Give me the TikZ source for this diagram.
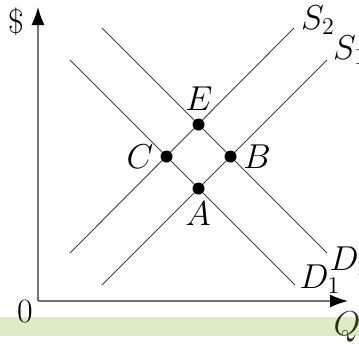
\documentclass[tikz,border=0pt]{standalone}
\usetikzlibrary{arrows.meta}

\definecolor{bandGreen}{RGB}{221,235,199}
\definecolor{qGreen}{RGB}{38,52,20}
\colorlet{axisGray}{black!55}
\colorlet{lineGray}{black!75}

\begin{document}
\begin{tikzpicture}[x=0.5pt, y=-0.5pt,
        curve/.style={lineGray, line width=0.45pt},
        axis/.style={axisGray, line width=0.8pt,
              -{Latex[black, length=9pt, width=6.5pt]}},
        eqdot/.style={circle, fill=black, inner sep=0pt, minimum size=6pt},
        lbl/.style={font=\fontsize{17}{19}\selectfont, inner sep=1pt}]
        \useasboundingbox (0,0) rectangle (359,343);
        \fill[bandGreen] (0,317) rectangle (359,336);
        % axes
        \coordinate (O)    at (38,301);
        \coordinate (ytop) at (38,7);
        \coordinate (xend) at (348,301);
        \draw[axis] (O) -- (ytop);
        \draw[axis] (O) -- (xend);
        \node[lbl] (dollar) at (16,22) {\$};
        \node[lbl] (zero)   at (25,312) {0};
        \node[lbl, text=qGreen] (qlab) at (347,327) {$Q$};
        % supply and demand lines
        \coordinate (s1a) at (102,285);  \coordinate (s1b) at (327,60);
        \coordinate (s2a) at (70,253);   \coordinate (s2b) at (294,28);
        \coordinate (d1a) at (70,60);    \coordinate (d1b) at (295,285);
        \coordinate (d2a) at (102,28);   \coordinate (d2b) at (327,253);
        \draw[curve] (s1a) -- (s1b);
        \draw[curve] (s2a) -- (s2b);
        \draw[curve] (d1a) -- (d1b);
        \draw[curve] (d2a) -- (d2b);
        \node[lbl] (s1lab) at (350,50)  {$S_1$};
        \node[lbl] (s2lab) at (318,20)  {$S_2$};
        \node[lbl] (d1lab) at (320,279) {$D_1$};
        \node[lbl] (d2lab) at (350,261) {$D_2$};
        % equilibria
        \node[eqdot] (A) at (198.5,188.5) {};
        \node[eqdot] (B) at (230.5,156.5) {};
        \node[eqdot] (C) at (166.5,156.5) {};
        \node[eqdot] (E) at (198.5,124.5) {};
        \node[lbl] (alab) at (198,214) {$A$};
        \node[lbl] (blab) at (257,157) {$B$};
        \node[lbl] (clab) at (140,157) {$C$};
        \node[lbl] (elab) at (199,99)  {$E$};
      \end{tikzpicture}
\end{document}
